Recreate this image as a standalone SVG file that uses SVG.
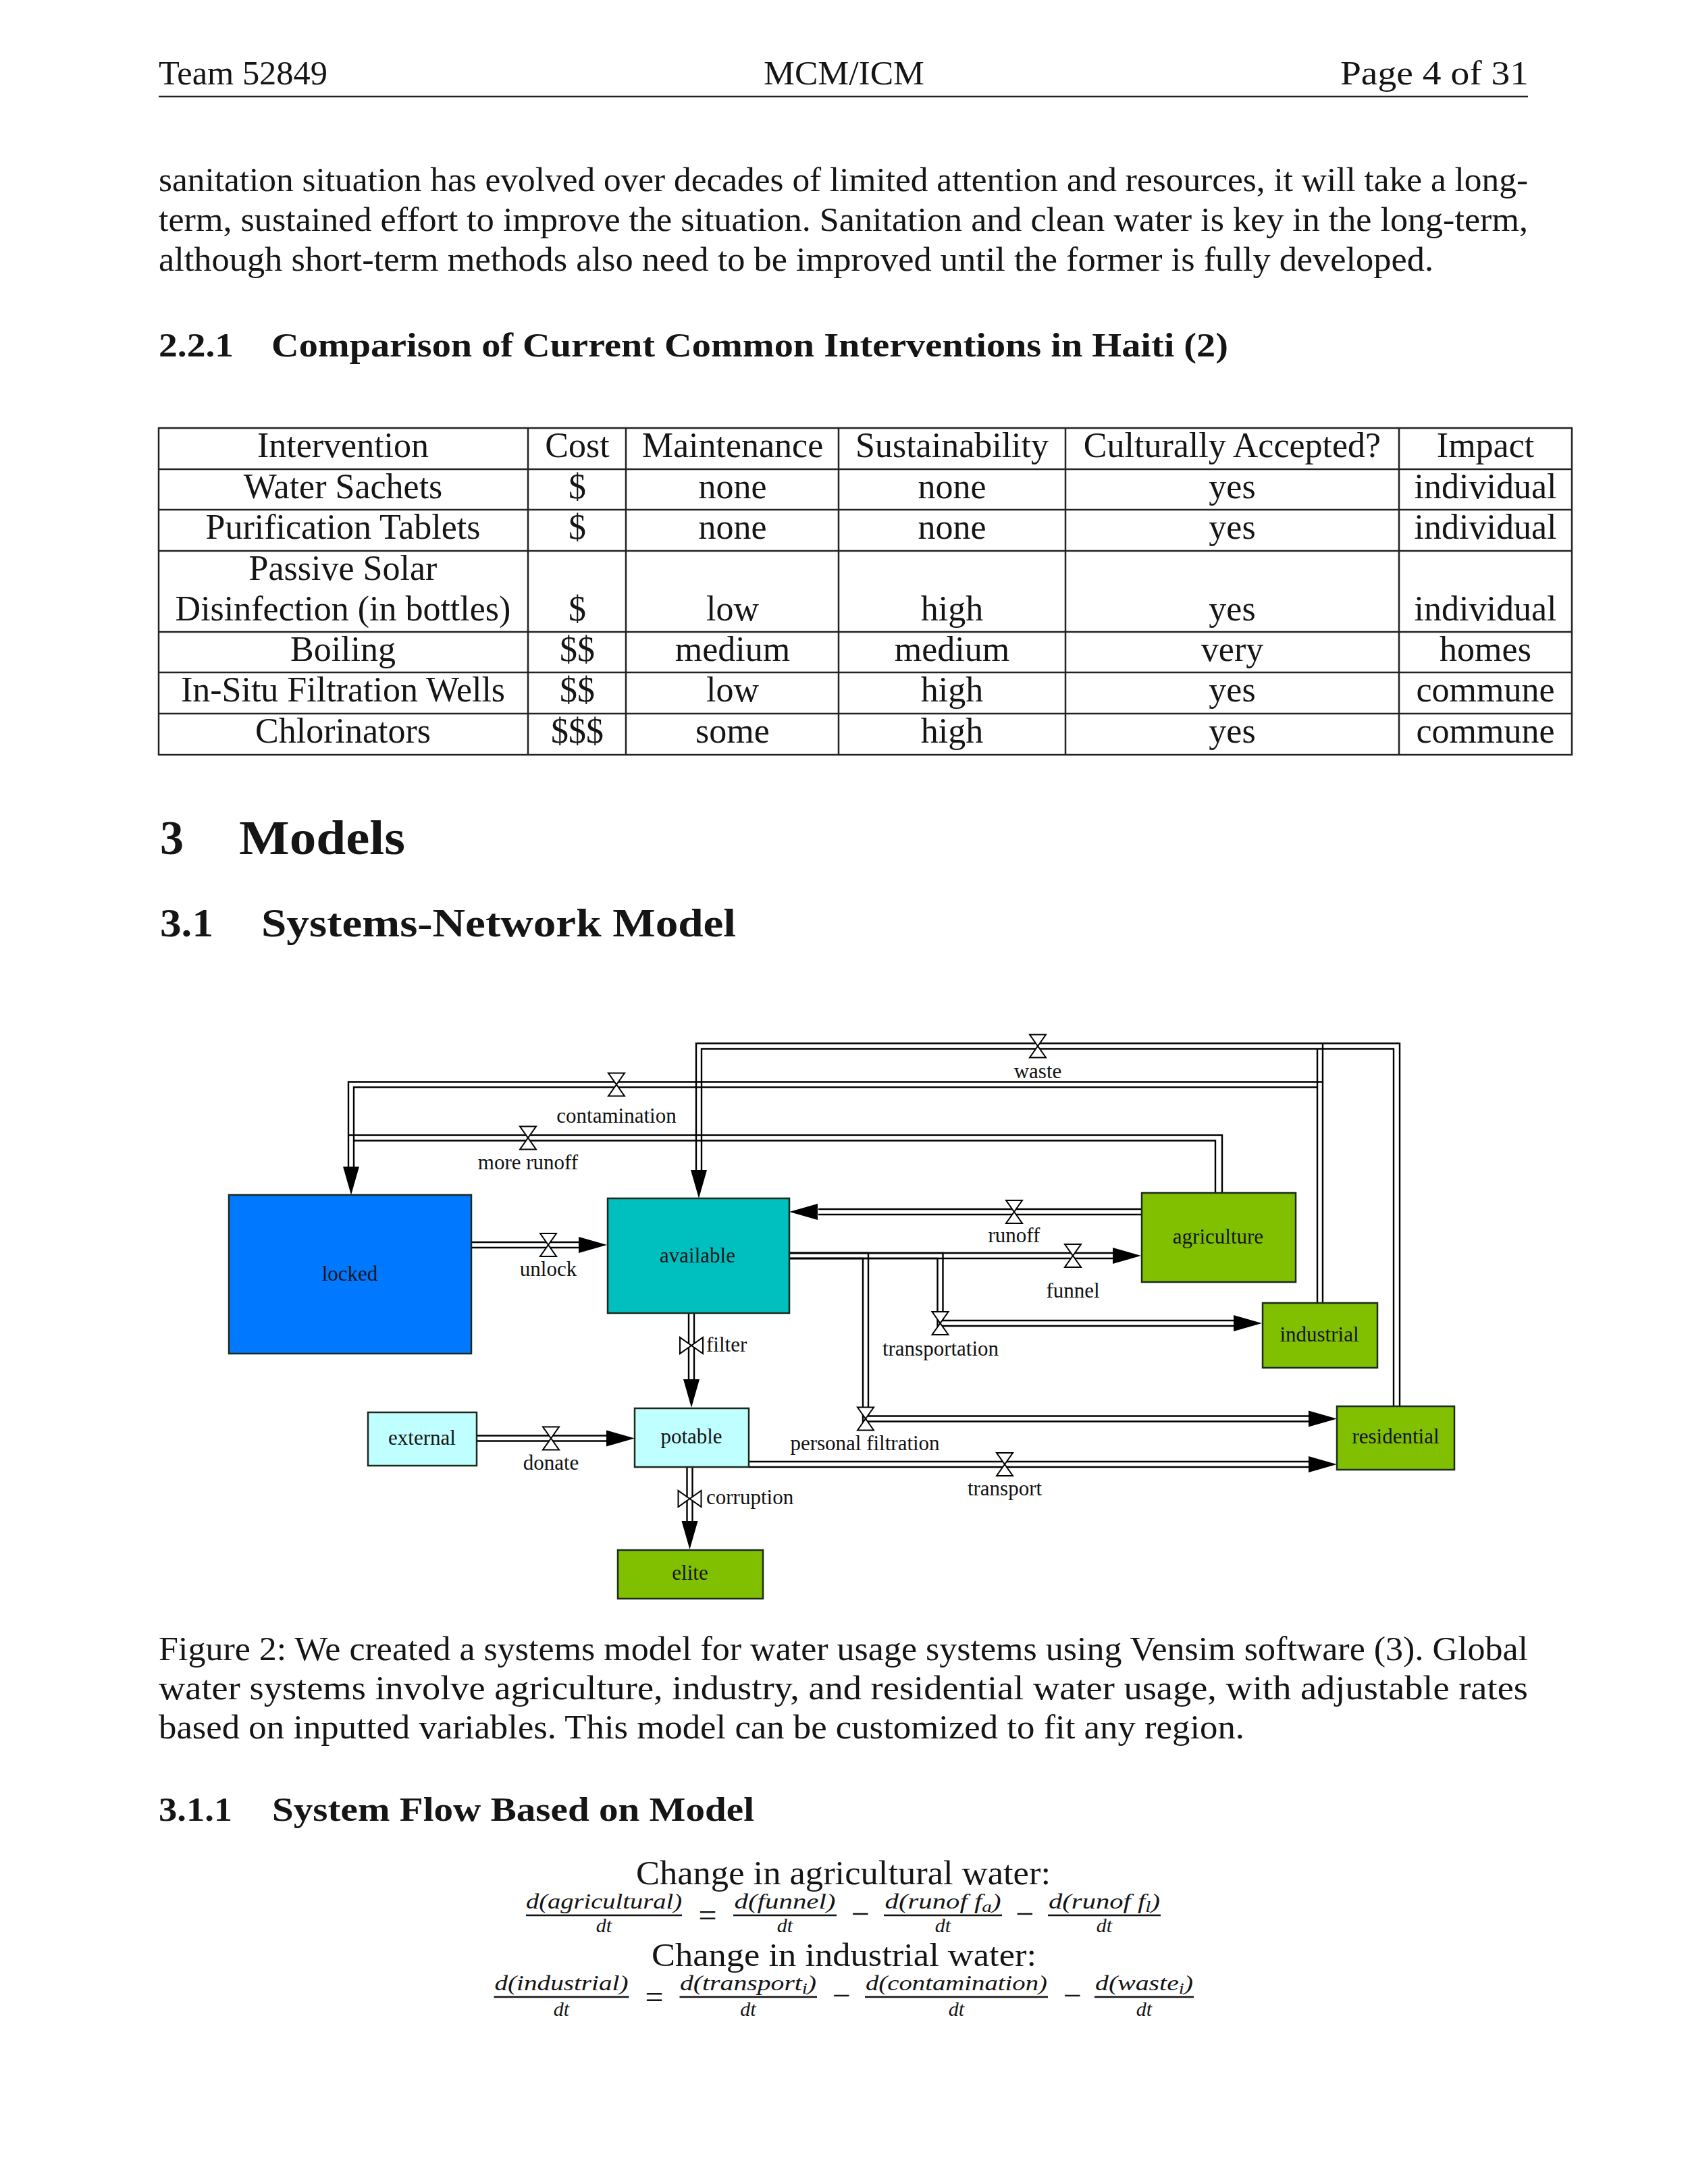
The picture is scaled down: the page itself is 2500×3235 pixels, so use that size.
<svg xmlns="http://www.w3.org/2000/svg" xmlns:xlink="http://www.w3.org/1999/xlink" width="2500" height="3235" viewBox="0 0 2500 3235">
<style>
  text { font-family: "Liberation Serif", "Times New Roman", serif; fill: #151515; }
  .body { font-size: 50px; }
  .hd { font-weight: bold; }
  .tbl { font-size: 52px; text-anchor: middle; }
  .lbl { font-size: 31px; text-anchor: middle; fill: #111; }
  .lbls { font-size: 31px; fill: #111; }
  .nlbl { font-size: 31px; text-anchor: middle; }
  .math { font-size: 32px; font-style: italic; text-anchor: middle; }
  .den { font-size: 30px; font-style: italic; text-anchor: middle; }
  .op { font-size: 48px; text-anchor: middle; }
  .rule { stroke: #222; stroke-width: 2.5; fill: none; }
  .grid { stroke: #222; stroke-width: 2.5; fill: none; }
  .bar { stroke: #111; stroke-width: 2.5; }
  .pl { fill: none; stroke: #000; stroke-width: 2.4; stroke-linejoin: miter; }
  .valve polygon { fill: #fff; stroke: #000; stroke-width: 2; }
  .arrow { fill: #000; }
  .box { stroke: #1c2a1c; stroke-width: 2.5; }
</style>
<defs>
  <path id="ah" d="M0,0 L-42,-12 L-42,12 Z"/>
  <g id="valve" class="valve">
    <polygon points="-12,-17 12,-17 0,0"/>
    <polygon points="-12,17 12,17 0,0"/>
  </g>
</defs>
<rect width="2500" height="3235" fill="#fff"/>

<!-- Header -->
<g id="header">
  <text class="body" x="235" y="125" textLength="250" lengthAdjust="spacingAndGlyphs">Team 52849</text>
  <text class="body" x="1131" y="125" textLength="238" lengthAdjust="spacingAndGlyphs">MCM/ICM</text>
  <text class="body" x="1985" y="125" textLength="279" lengthAdjust="spacingAndGlyphs">Page 4 of 31</text>
  <line class="rule" x1="235" y1="143" x2="2263" y2="143"/>
</g>

<!-- Body paragraph -->
<g id="paragraph">
  <text class="body" x="235" y="283" textLength="2028" lengthAdjust="spacingAndGlyphs">sanitation situation has evolved over decades of limited attention and resources, it will take a long-</text>
  <text class="body" x="235" y="342" textLength="2028" lengthAdjust="spacingAndGlyphs">term, sustained effort to improve the situation. Sanitation and clean water is key in the long-term,</text>
  <text class="body" x="235" y="401" textLength="1888" lengthAdjust="spacingAndGlyphs">although short-term methods also need to be improved until the former is fully developed.</text>
</g>

<!-- 2.2.1 heading -->
<g id="heading-221">
  <text class="body hd" x="235" y="528" textLength="111" lengthAdjust="spacingAndGlyphs">2.2.1</text>
  <text class="body hd" x="402" y="528" textLength="1417" lengthAdjust="spacingAndGlyphs">Comparison of Current Common Interventions in Haiti (2)</text>
</g>

<!-- Table -->
<g id="table">
  <rect class="grid" x="235" y="634" width="2093" height="484"/>
  <line class="grid" x1="235" y1="695" x2="2328" y2="695"/>
  <line class="grid" x1="235" y1="755" x2="2328" y2="755"/>
  <line class="grid" x1="235" y1="816" x2="2328" y2="816"/>
  <line class="grid" x1="235" y1="936" x2="2328" y2="936"/>
  <line class="grid" x1="235" y1="996" x2="2328" y2="996"/>
  <line class="grid" x1="235" y1="1057" x2="2328" y2="1057"/>
  <line class="grid" x1="782" y1="634" x2="782" y2="1118"/>
  <line class="grid" x1="927" y1="634" x2="927" y2="1118"/>
  <line class="grid" x1="1242" y1="634" x2="1242" y2="1118"/>
  <line class="grid" x1="1578" y1="634" x2="1578" y2="1118"/>
  <line class="grid" x1="2072" y1="634" x2="2072" y2="1118"/>

  <text class="tbl" x="508" y="677">Intervention</text>
  <text class="tbl" x="855" y="677">Cost</text>
  <text class="tbl" x="1085" y="677">Maintenance</text>
  <text class="tbl" x="1410" y="677">Sustainability</text>
  <text class="tbl" x="1825" y="677">Culturally Accepted?</text>
  <text class="tbl" x="2200" y="677">Impact</text>

  <text class="tbl" x="508" y="738">Water Sachets</text>
  <text class="tbl" x="855" y="738">$</text>
  <text class="tbl" x="1085" y="738">none</text>
  <text class="tbl" x="1410" y="738">none</text>
  <text class="tbl" x="1825" y="738">yes</text>
  <text class="tbl" x="2200" y="738">individual</text>

  <text class="tbl" x="508" y="798">Purification Tablets</text>
  <text class="tbl" x="855" y="798">$</text>
  <text class="tbl" x="1085" y="798">none</text>
  <text class="tbl" x="1410" y="798">none</text>
  <text class="tbl" x="1825" y="798">yes</text>
  <text class="tbl" x="2200" y="798">individual</text>

  <text class="tbl" x="508" y="859">Passive Solar</text>
  <text class="tbl" x="508" y="919">Disinfection (in bottles)</text>
  <text class="tbl" x="855" y="919">$</text>
  <text class="tbl" x="1085" y="919">low</text>
  <text class="tbl" x="1410" y="919">high</text>
  <text class="tbl" x="1825" y="919">yes</text>
  <text class="tbl" x="2200" y="919">individual</text>

  <text class="tbl" x="508" y="979">Boiling</text>
  <text class="tbl" x="855" y="979">$$</text>
  <text class="tbl" x="1085" y="979">medium</text>
  <text class="tbl" x="1410" y="979">medium</text>
  <text class="tbl" x="1825" y="979">very</text>
  <text class="tbl" x="2200" y="979">homes</text>

  <text class="tbl" x="508" y="1039">In-Situ Filtration Wells</text>
  <text class="tbl" x="855" y="1039">$$</text>
  <text class="tbl" x="1085" y="1039">low</text>
  <text class="tbl" x="1410" y="1039">high</text>
  <text class="tbl" x="1825" y="1039">yes</text>
  <text class="tbl" x="2200" y="1039">commune</text>

  <text class="tbl" x="508" y="1100">Chlorinators</text>
  <text class="tbl" x="855" y="1100">$$$</text>
  <text class="tbl" x="1085" y="1100">some</text>
  <text class="tbl" x="1410" y="1100">high</text>
  <text class="tbl" x="1825" y="1100">yes</text>
  <text class="tbl" x="2200" y="1100">commune</text>
</g>

<!-- Section headings -->
<g id="heading-3">
  <text class="hd" x="237" y="1265" font-size="72" textLength="35" lengthAdjust="spacingAndGlyphs">3</text>
  <text class="hd" x="354" y="1265" font-size="72" textLength="246" lengthAdjust="spacingAndGlyphs">Models</text>
</g>
<g id="heading-31">
  <text class="hd" x="237" y="1387" font-size="60" textLength="79" lengthAdjust="spacingAndGlyphs">3.1</text>
  <text class="hd" x="387" y="1387" font-size="60" textLength="703" lengthAdjust="spacingAndGlyphs">Systems-Network Model</text>
</g>

<!-- Diagram connectors (each flow pipe drawn as a pair of lines) -->
<g id="connectors">
  <g id="pipes" class="pl">
    <!-- contamination: industrial -> locked -->
    <path d="M1959,1602.5 H516 V1728"/>
    <path d="M1951,1610.5 H524 V1728"/>
    <!-- industrial riser (to waste / contamination) -->
    <path d="M1959,1930 V1545.5"/>
    <path d="M1951,1930 V1553.5"/>
    <!-- waste: residential -> available -->
    <path d="M2073,2083 V1545.5 H1031 V1733"/>
    <path d="M2064,2083 V1553.5 H1039 V1733"/>
    <!-- more runoff: agriculture -> locked -->
    <path d="M1810,1767 V1681.5 H516"/>
    <path d="M1800,1767 V1689.5 H524"/>
    <!-- unlock -->
    <path d="M698,1840 H857"/>
    <path d="M698,1848 H857"/>
    <!-- runoff -->
    <path d="M1691,1791 H1212"/>
    <path d="M1691,1799 H1212"/>
    <!-- funnel -->
    <path d="M1169,1856 H1648"/>
    <path d="M1169,1864 H1648"/>
    <!-- transportation -->
    <path d="M1169,1856 H1396.5 V1956 H1827"/>
    <path d="M1169,1864 H1388.5 V1964 H1827"/>
    <!-- personal filtration -->
    <path d="M1169,1856 H1286 V2097.5 H1938"/>
    <path d="M1169,1864 H1278 V2105.5 H1938"/>
    <!-- filter -->
    <path d="M1020,1945 V2043"/>
    <path d="M1028,1945 V2043"/>
    <!-- donate -->
    <path d="M706,2126.5 H898"/>
    <path d="M706,2134.5 H898"/>
    <!-- corruption -->
    <path d="M1017.5,2173 V2253"/>
    <path d="M1025.5,2173 V2253"/>
    <!-- transport -->
    <path d="M1109,2165 H1938"/>
    <path d="M1109,2173 H1938"/>
  </g>
  <g class="arrow">
    <use xlink:href="#ah" transform="translate(520,1770) rotate(90)"/>
    <use xlink:href="#ah" transform="translate(1035,1775) rotate(90)"/>
    <use xlink:href="#ah" transform="translate(899,1844)"/>
    <use xlink:href="#ah" transform="translate(1169,1795) rotate(180)"/>
    <use xlink:href="#ah" transform="translate(1690,1860)"/>
    <use xlink:href="#ah" transform="translate(1869,1960)"/>
    <use xlink:href="#ah" transform="translate(1980,2101.5)"/>
    <use xlink:href="#ah" transform="translate(1024,2085) rotate(90)"/>
    <use xlink:href="#ah" transform="translate(940,2130.5)"/>
    <use xlink:href="#ah" transform="translate(1021.5,2295) rotate(90)"/>
    <use xlink:href="#ah" transform="translate(1980,2169)"/>
  </g>
  <g id="valves">
    <use xlink:href="#valve" transform="translate(913,1606.5)"/>
    <use xlink:href="#valve" transform="translate(782,1685.5)"/>
    <use xlink:href="#valve" transform="translate(1537,1549.5)"/>
    <use xlink:href="#valve" transform="translate(812,1844)"/>
    <use xlink:href="#valve" transform="translate(1502,1795)"/>
    <use xlink:href="#valve" transform="translate(1589,1860)"/>
    <use xlink:href="#valve" transform="translate(1392.5,1960)"/>
    <use xlink:href="#valve" transform="translate(1282,2101.5)"/>
    <use xlink:href="#valve" transform="translate(816,2130.5)"/>
    <use xlink:href="#valve" transform="translate(1488,2169)"/>
    <use xlink:href="#valve" transform="translate(1024,1993) rotate(90)"/>
    <use xlink:href="#valve" transform="translate(1021.5,2220) rotate(90)"/>
  </g>
  <g id="flow-labels">
    <text class="lbl" x="913" y="1663">contamination</text>
    <text class="lbl" x="782" y="1732">more runoff</text>
    <text class="lbl" x="1537" y="1597">waste</text>
    <text class="lbl" x="812" y="1890">unlock</text>
    <text class="lbl" x="1502" y="1840">runoff</text>
    <text class="lbl" x="1589" y="1922">funnel</text>
    <text class="lbl" x="1393" y="2008">transportation</text>
    <text class="lbl" x="1281" y="2148">personal filtration</text>
    <text class="lbl" x="816" y="2177">donate</text>
    <text class="lbl" x="1488" y="2215">transport</text>
    <text class="lbls" x="1046" y="2002">filter</text>
    <text class="lbls" x="1046" y="2228">corruption</text>
  </g>
</g>

<!-- Diagram nodes -->
<g id="node-locked">
  <rect class="box" x="339" y="1770" width="359" height="235" fill="#0078ff"/>
  <text class="nlbl" x="518" y="1897" fill="#0b2160">locked</text>
</g>
<g id="node-available">
  <rect class="box" x="900" y="1775" width="269" height="170" fill="#00bfbf"/>
  <text class="nlbl" x="1033" y="1870" fill="#0b3434">available</text>
</g>
<g id="node-agriculture">
  <rect class="box" x="1691" y="1767" width="228" height="132" fill="#80c000"/>
  <text class="nlbl" x="1804" y="1842" fill="#142400">agriculture</text>
</g>
<g id="node-industrial">
  <rect class="box" x="1870" y="1930" width="170" height="96" fill="#80c000"/>
  <text class="nlbl" x="1954" y="1987" fill="#142400">industrial</text>
</g>
<g id="node-residential">
  <rect class="box" x="1980" y="2083" width="174" height="94" fill="#80c000"/>
  <text class="nlbl" x="2067" y="2138" fill="#142400">residential</text>
</g>
<g id="node-external">
  <rect class="box" x="545" y="2092" width="161" height="79" fill="#c0ffff"/>
  <text class="nlbl" x="625" y="2140" fill="#0b2a2a">external</text>
</g>
<g id="node-potable">
  <rect class="box" x="940" y="2086" width="169" height="87" fill="#c0ffff"/>
  <text class="nlbl" x="1024" y="2138" fill="#0b2a2a">potable</text>
</g>
<g id="node-elite">
  <rect class="box" x="915" y="2296" width="215" height="72" fill="#80c000"/>
  <text class="nlbl" x="1022" y="2340" fill="#142400">elite</text>
</g>

<!-- Caption -->
<g id="caption">
  <text class="body" x="235" y="2459" textLength="2028" lengthAdjust="spacingAndGlyphs">Figure 2: We created a systems model for water usage systems using Vensim software (3). Global</text>
  <text class="body" x="235" y="2517" textLength="2028" lengthAdjust="spacingAndGlyphs">water systems involve agriculture, industry, and residential water usage, with adjustable rates</text>
  <text class="body" x="235" y="2575" textLength="1608" lengthAdjust="spacingAndGlyphs">based on inputted variables. This model can be customized to fit any region.</text>
</g>

<!-- 3.1.1 heading -->
<g id="heading-311">
  <text class="body hd" x="235" y="2697" textLength="109" lengthAdjust="spacingAndGlyphs">3.1.1</text>
  <text class="body hd" x="403" y="2697" textLength="714" lengthAdjust="spacingAndGlyphs">System Flow Based on Model</text>
</g>

<!-- Equations -->
<g id="equations">
  <text class="body" x="942" y="2791" textLength="614" lengthAdjust="spacingAndGlyphs">Change in agricultural water:</text>
  <text class="math" x="894.5" y="2827" textLength="231" lengthAdjust="spacingAndGlyphs">d(agricultural)</text>
  <line class="bar" x1="779" y1="2837" x2="1010" y2="2837"/>
  <text class="den" x="894.5" y="2862">dt</text>
  <text class="op" x="1048" y="2853">=</text>
  <text class="math" x="1162.5" y="2827" textLength="150" lengthAdjust="spacingAndGlyphs">d(funnel)</text>
  <line class="bar" x1="1086" y1="2837" x2="1239" y2="2837"/>
  <text class="den" x="1162.5" y="2862">dt</text>
  <text class="op" x="1274" y="2851">−</text>
  <text class="math" x="1396.5" y="2827" textLength="172" lengthAdjust="spacingAndGlyphs">d(runof f<tspan font-size="23" dy="5">a</tspan><tspan dy="-5">)</tspan></text>
  <line class="bar" x1="1309" y1="2837" x2="1484" y2="2837"/>
  <text class="den" x="1396.5" y="2862">dt</text>
  <text class="op" x="1517.5" y="2851">−</text>
  <text class="math" x="1635.5" y="2827" textLength="165" lengthAdjust="spacingAndGlyphs">d(runof f<tspan font-size="23" dy="5">l</tspan><tspan dy="-5">)</tspan></text>
  <line class="bar" x1="1552" y1="2837" x2="1719" y2="2837"/>
  <text class="den" x="1635.5" y="2862">dt</text>

  <text x="965" y="2912" font-size="48" textLength="570" lengthAdjust="spacingAndGlyphs">Change in industrial water:</text>
  <text class="math" x="831.5" y="2948" textLength="198" lengthAdjust="spacingAndGlyphs">d(industrial)</text>
  <line class="bar" x1="731.5" y1="2958" x2="931.5" y2="2958"/>
  <text class="den" x="831.5" y="2986">dt</text>
  <text class="op" x="969" y="2974">=</text>
  <text class="math" x="1108" y="2948" textLength="202" lengthAdjust="spacingAndGlyphs">d(transport<tspan font-size="23" dy="5">i</tspan><tspan dy="-5">)</tspan></text>
  <line class="bar" x1="1006.5" y1="2958" x2="1210" y2="2958"/>
  <text class="den" x="1108" y="2986">dt</text>
  <text class="op" x="1246" y="2972">−</text>
  <text class="math" x="1416.5" y="2948" textLength="269" lengthAdjust="spacingAndGlyphs">d(contamination)</text>
  <line class="bar" x1="1281" y1="2958" x2="1552" y2="2958"/>
  <text class="den" x="1416.5" y="2986">dt</text>
  <text class="op" x="1588" y="2972">−</text>
  <text class="math" x="1694.5" y="2948" textLength="145" lengthAdjust="spacingAndGlyphs">d(waste<tspan font-size="23" dy="5">i</tspan><tspan dy="-5">)</tspan></text>
  <line class="bar" x1="1621" y1="2958" x2="1768" y2="2958"/>
  <text class="den" x="1694.5" y="2986">dt</text>
</g>
</svg>
